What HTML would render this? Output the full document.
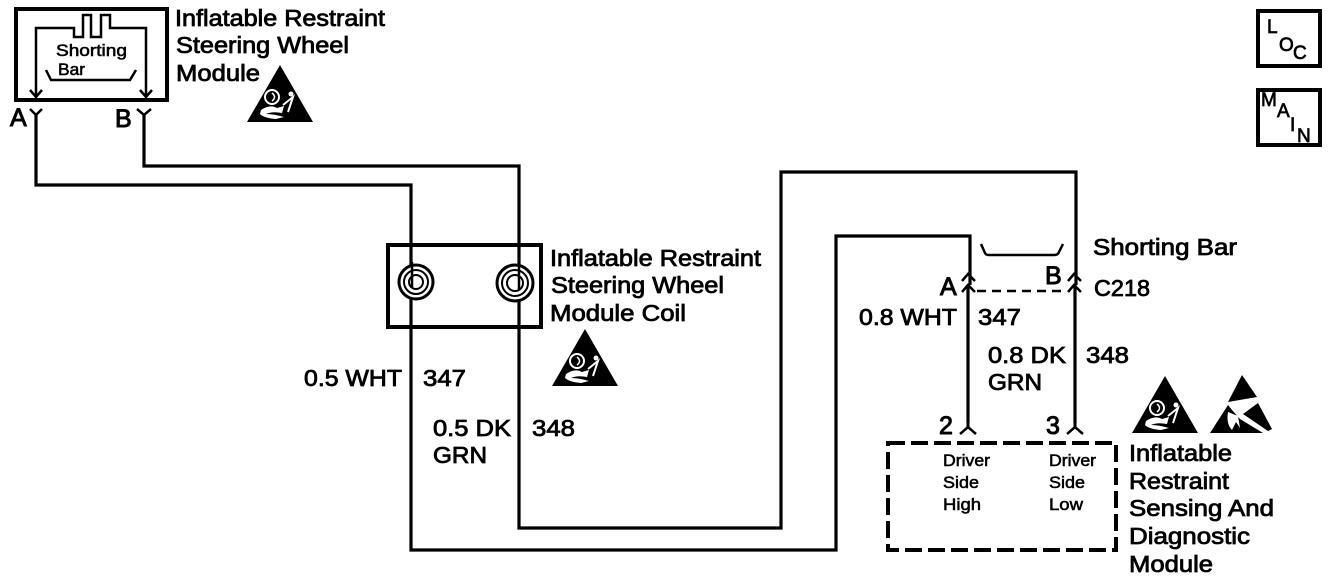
<!DOCTYPE html>
<html>
<head>
<meta charset="utf-8">
<style>
html,body{margin:0;padding:0;background:#fff;width:1344px;height:580px;overflow:hidden}
svg{display:block}
text{font-family:"Liberation Sans",sans-serif;fill:#000;stroke:#000;stroke-width:.8px}
.l{font-size:23px}
.s{font-size:16.5px;stroke-width:.55px}
.m{font-size:19px;stroke-width:.7px}
.b{font-size:25px;stroke-width:1px}
</style>
</head>
<body>
<svg width="1344" height="580" viewBox="0 0 1344 580" xmlns="http://www.w3.org/2000/svg">
<defs>
<g id="tri">
<path d="M0 -46 L33 11 L-33 11 Z" fill="#000"/>
<circle cx="-8" cy="-14" r="7" fill="none" stroke="#fff" stroke-width="2"/>
<path d="M-8 -18 Q-3 -14 -8 -10" fill="none" stroke="#fff" stroke-width="1.5"/>
<circle cx="11" cy="-17" r="2.5" fill="#fff"/>
<path d="M3 -6L13 -14L8 1" fill="none" stroke="#fff" stroke-width="2"/>
<path d="M-19 -1 Q-10 -7 -3 -3 L4 -5 L2 2 Q-8 0 -14 3 Q-6 3 4 6 L-4 8 Q-16 7 -20 3 Z" fill="#fff"/>
</g>
</defs>
<g fill="none" stroke="#000" stroke-width="3.2" stroke-linejoin="miter">
<!-- top module -->
<rect x="16" y="9" width="151" height="91" stroke-width="4"/>
<path d="M36 96V28H74V37H83V15H91V37H101V15H110V28H146V96" stroke-width="2.5"/>
<path d="M30 90L36 97L42 90M140 90L146 97L152 90" stroke-width="2.5"/>
<path d="M46 70L51 80H130L136 70" stroke-width="2.5"/>
<!-- plugs -->
<path d="M30 109L36 115L42 109M137 109L144 115L151 109" stroke-width="2.5"/>
<!-- wires -->
<path d="M36 115V185H411V550H836V236H970V285"/>
<path d="M144 115V166H519V528H781V172H1076V285"/>
<!-- coil box -->
<rect x="388" y="245" width="153" height="82" stroke-width="4"/>
<!-- C218 -->
<path d="M962 281L968 274L975 281M962 292L968 285L975 292M1068 281L1074 274L1081 281M1068 292L1074 285L1081 292" stroke-width="2.5"/>
<path d="M968 285V423M1075 285V423"/>
<path d="M977 291H1066" stroke-dasharray="9 6" stroke-width="2.5"/>
<path d="M981 244L985 253Q986 255 989 255H1054Q1058 255 1059 252L1063 244" stroke-width="2.5"/>
<!-- lower pins -->
<path d="M960 434L968 427L976 434M1067 434L1075 427L1083 434" stroke-width="2.5"/>
<path d="M968 427V412M1075 427V412" stroke-width="3"/>
<!-- dashed module -->
<rect x="888" y="443" width="228" height="107" stroke-width="4" stroke-dasharray="17 6"/>
<!-- LOC MAIN -->
<rect x="1258" y="11" width="62" height="55" stroke-width="4"/>
<rect x="1258" y="90" width="62" height="55" stroke-width="4"/>
</g>
<!-- coils -->
<g fill="#fff" stroke="#000">
<circle cx="416" cy="282" r="17" stroke-width="3"/>
<circle cx="416" cy="282" r="12" stroke-width="2"/>
<circle cx="416" cy="282" r="7" stroke-width="2"/>
<circle cx="515" cy="283" r="18" stroke-width="3"/>
<circle cx="515" cy="283" r="13" stroke-width="2"/>
<circle cx="515" cy="283" r="8" stroke-width="2"/>
</g>
<path d="M412 262V288M519 264V290" stroke="#000" stroke-width="2.5" fill="none"/>
<!-- triangles -->
<use href="#tri" x="280" y="111"/>
<use href="#tri" x="585" y="375"/>
<use href="#tri" x="1165" y="422"/>
<!-- ESD -->
<path d="M1242 375L1228 402L1257 397Z" fill="#000"/>
<path d="M1228 405L1210 433H1263L1240 419L1232 410Z" fill="#000"/>
<path d="M1243 414L1258 403L1272 429L1268 431Z" fill="#000"/>
<path d="M1228 412Q1226 424 1232 430L1236 422L1240 428L1238 416Z" fill="#fff"/>
<!-- text -->
<text class="l" x="175" y="26" textLength="210" lengthAdjust="spacingAndGlyphs">Inflatable Restraint</text>
<text class="l" x="176" y="53" textLength="173" lengthAdjust="spacingAndGlyphs">Steering Wheel</text>
<text class="l" x="176" y="81" textLength="84" lengthAdjust="spacingAndGlyphs">Module</text>
<text class="s" x="56" y="56" textLength="71" lengthAdjust="spacingAndGlyphs">Shorting</text>
<text class="s" x="58" y="75" textLength="27" lengthAdjust="spacingAndGlyphs">Bar</text>
<text class="b" x="10" y="126">A</text>
<text class="b" x="115" y="127">B</text>
<text class="l" x="550" y="266" textLength="211" lengthAdjust="spacingAndGlyphs">Inflatable Restraint</text>
<text class="l" x="551" y="293" textLength="173" lengthAdjust="spacingAndGlyphs">Steering Wheel</text>
<text class="l" x="550" y="321" textLength="136" lengthAdjust="spacingAndGlyphs">Module Coil</text>
<text class="l" x="304" y="386" textLength="98" lengthAdjust="spacingAndGlyphs">0.5 WHT</text>
<text class="l" x="423" y="386" textLength="43" lengthAdjust="spacingAndGlyphs">347</text>
<text class="l" x="433" y="436" textLength="78" lengthAdjust="spacingAndGlyphs">0.5 DK</text>
<text class="l" x="532" y="436" textLength="43" lengthAdjust="spacingAndGlyphs">348</text>
<text class="l" x="433" y="463" textLength="54" lengthAdjust="spacingAndGlyphs">GRN</text>
<text class="l" x="1093" y="255" textLength="144" lengthAdjust="spacingAndGlyphs">Shorting Bar</text>
<text class="b" x="940" y="295">A</text>
<text class="b" x="1045" y="284">B</text>
<text class="l" x="1094" y="296" textLength="56" lengthAdjust="spacingAndGlyphs">C218</text>
<text class="l" x="859" y="325" textLength="98" lengthAdjust="spacingAndGlyphs">0.8 WHT</text>
<text class="l" x="978" y="325" textLength="43" lengthAdjust="spacingAndGlyphs">347</text>
<text class="l" x="988" y="363" textLength="78" lengthAdjust="spacingAndGlyphs">0.8 DK</text>
<text class="l" x="1086" y="363" textLength="43" lengthAdjust="spacingAndGlyphs">348</text>
<text class="l" x="988" y="390" textLength="54" lengthAdjust="spacingAndGlyphs">GRN</text>
<text class="b" x="939" y="434">2</text>
<text class="b" x="1046" y="434">3</text>
<text class="s" x="943" y="466" textLength="47" lengthAdjust="spacingAndGlyphs">Driver</text>
<text class="s" x="943" y="488" textLength="36" lengthAdjust="spacingAndGlyphs">Side</text>
<text class="s" x="943" y="510" textLength="38" lengthAdjust="spacingAndGlyphs">High</text>
<text class="s" x="1049" y="466" textLength="47" lengthAdjust="spacingAndGlyphs">Driver</text>
<text class="s" x="1049" y="488" textLength="36" lengthAdjust="spacingAndGlyphs">Side</text>
<text class="s" x="1049" y="510" textLength="34" lengthAdjust="spacingAndGlyphs">Low</text>
<text class="l" x="1129" y="461" textLength="103" lengthAdjust="spacingAndGlyphs">Inflatable</text>
<text class="l" x="1129" y="489" textLength="100" lengthAdjust="spacingAndGlyphs">Restraint</text>
<text class="l" x="1129" y="516" textLength="145" lengthAdjust="spacingAndGlyphs">Sensing And</text>
<text class="l" x="1129" y="544" textLength="121" lengthAdjust="spacingAndGlyphs">Diagnostic</text>
<text class="l" x="1129" y="572" textLength="84" lengthAdjust="spacingAndGlyphs">Module</text>
<!-- LOC / MAIN -->
<text class="m" x="1267" y="33">L</text>
<text class="m" x="1279" y="51">O</text>
<text class="m" x="1293" y="59">C</text>
<text class="m" x="1261" y="106">M</text>
<text class="m" x="1277" y="117">A</text>
<text class="m" x="1290" y="131">I</text>
<text class="m" x="1297" y="142">N</text>
</svg>
</body>
</html>
